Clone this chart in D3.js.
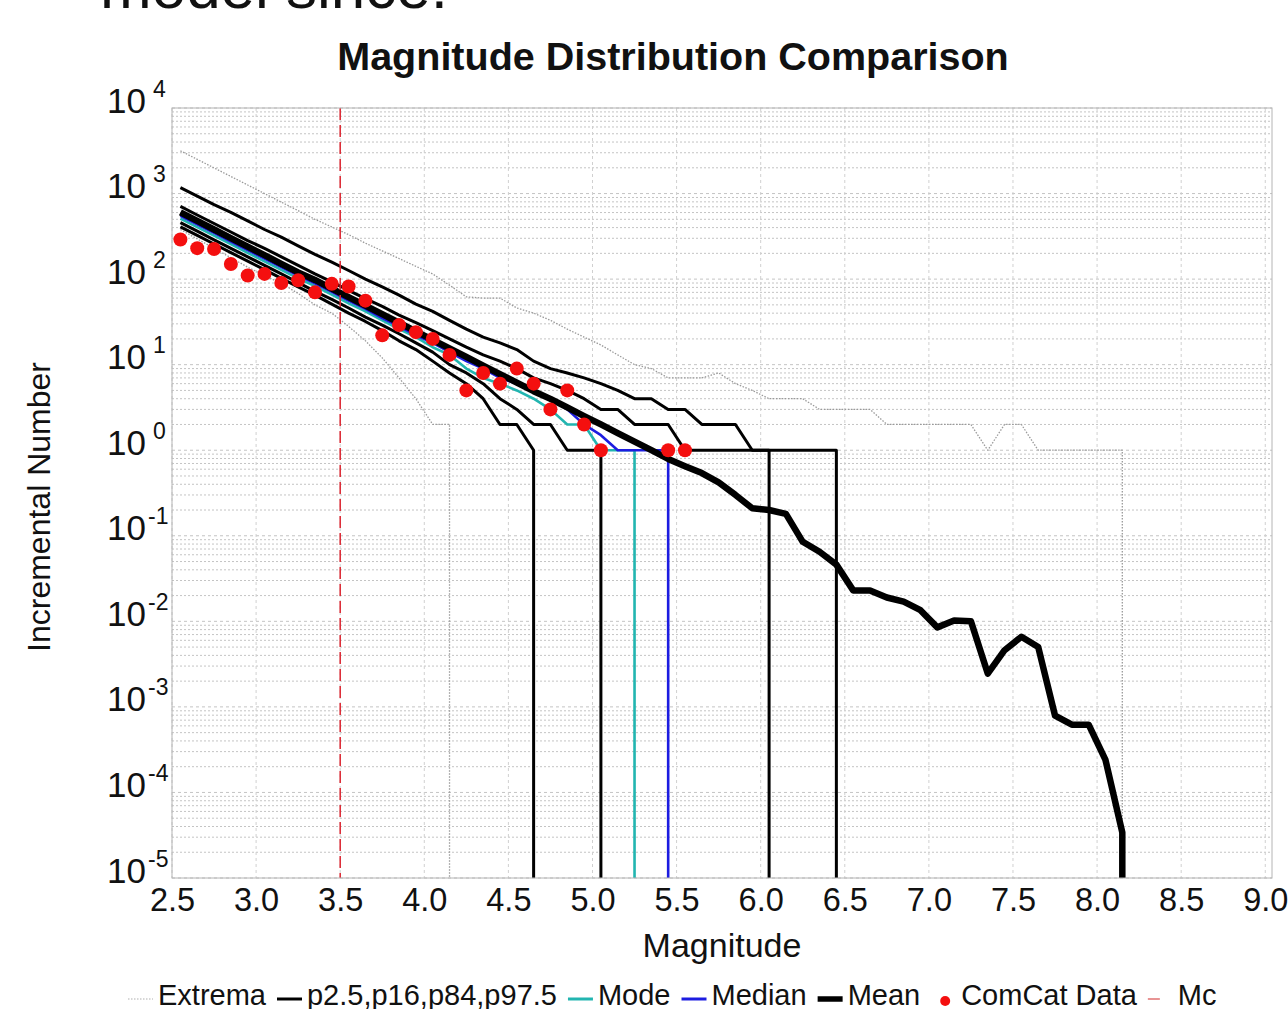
<!DOCTYPE html>
<html>
<head>
<meta charset="utf-8">
<script src="https://cdn.jsdelivr.net/npm/d3@7"></script>
<style>
  body { margin: 0; background: #fff; }
  text { font-family: "Liberation Sans", Arial, sans-serif; fill: #111; }
</style>
</head>
<body>
<svg id="chart" width="1288" height="1009"></svg>
<script>
// magnitude bin centres
var mags = [2.55, 2.65, 2.75, 2.85, 2.95, 3.05, 3.15, 3.25, 3.35, 3.45,
            3.55, 3.65, 3.75, 3.85, 3.95, 4.05, 4.15, 4.25, 4.35, 4.45,
            4.55, 4.65, 4.75, 4.85, 4.95, 5.05, 5.15, 5.25, 5.35, 5.45,
            5.55, 5.65, 5.75, 5.85, 5.95, 6.05, 6.15, 6.25, 6.35, 6.45,
            6.55, 6.65, 6.75, 6.85, 6.95, 7.05, 7.15, 7.25, 7.35, 7.45,
            7.55, 7.65, 7.75, 7.85, 7.95, 8.05, 8.15];

// each series starts at 2.55 and is zero after its last value
var extremaHigh = [3160, 2512, 1995, 1585, 1259, 1000, 794, 631, 500, 407,
                   331, 263, 214, 174, 141, 115, 85, 62, 60, 60,
                   46, 40, 33, 26, 21, 17, 13, 10, 9, 7,
                   7, 7, 8, 6, 5, 4, 4, 4, 3, 3,
                   3, 3, 2, 2, 2, 2, 2, 2, 1, 2,
                   2, 1, 1, 1, 1, 1, 1];
var extremaLow = [380, 295, 229, 178, 138, 110, 89, 68, 50, 40,
                  28, 19, 12, 7, 4, 2, 2];
var p975 = [1175, 933, 741, 603, 479, 380, 309, 245, 195, 158,
            126, 100, 81, 65, 51, 42, 33, 26, 21, 18,
            15, 11, 9, 8, 7, 6, 5, 4, 4, 3,
            3, 2, 2, 2, 1, 1, 1, 1, 1, 1];
var p84 = [708, 562, 447, 355, 282, 229, 182, 145, 115, 93,
           74, 59, 48, 38, 31, 25, 20, 16, 13, 11,
           9, 7, 6, 5, 4, 3, 3, 2, 2, 2,
           1, 1, 1, 1, 1, 1];
var p16 = [457, 363, 288, 229, 182, 145, 115, 91, 72, 58,
           46, 36, 29, 23, 18, 14, 10, 8, 6, 4,
           3, 2, 2, 1, 1, 1];
var p25 = [407, 324, 257, 204, 162, 129, 102, 81, 65, 51,
           40, 32, 25, 19, 15, 11, 8, 6, 4, 2,
           2, 1];
var modeVals = [510, 405, 322, 256, 203, 161, 128, 102, 83, 66,
                52, 42, 33, 26, 21, 16, 13, 9, 7, 6,
                5, 4, 3, 2, 2, 1, 1, 1];
var medianVals = [550, 437, 347, 275, 219, 174, 138, 110, 89, 71,
                  56, 45, 35, 28, 22, 18, 14, 11, 9, 7,
                  6, 5, 4, 3, 2, 1.5, 1, 1, 1, 1];
var meanVals = [603, 479, 380, 302, 240, 191, 151, 120, 97.7, 77.6,
                61.7, 49.0, 38.9, 30.9, 24.5, 19.5, 15.5, 12.3, 9.77, 7.76,
                6.17, 4.90, 3.98, 3.16, 2.51, 2.00, 1.58, 1.26, 1.00, 0.79,
                0.65, 0.54, 0.42, 0.30, 0.21, 0.20, 0.18, 0.085, 0.065, 0.046,
                0.023, 0.023, 0.019, 0.017, 0.0135, 0.0085, 0.0102, 0.010, 0.00245, 0.0046,
                0.0066, 0.0050, 0.00079, 0.00062, 0.00062, 0.00024, 0.000034];

// observed ComCat counts
var comcatMags = [2.55, 2.65, 2.75, 2.85, 2.95, 3.05, 3.15, 3.25, 3.35, 3.45,
                  3.55, 3.65, 3.75, 3.85, 3.95, 4.05, 4.15, 4.25, 4.35, 4.45,
                  4.55, 4.65, 4.75, 4.85, 4.95, 5.05, 5.45, 5.55];
var comcatCounts = [290, 230, 225, 150, 110, 115, 90, 97, 70, 88,
                    82, 56, 22, 29, 24, 20, 13, 5, 8, 6,
                    9, 6, 3, 5, 2, 1, 1, 1];

var mc = 3.5;

var xTicks = [2.5, 3.0, 3.5, 4.0, 4.5, 5.0, 5.5, 6.0, 6.5, 7.0, 7.5, 8.0, 8.5, 9.0];
var yExponents = [-5, -4, -3, -2, -1, 0, 1, 2, 3, 4];

var legendItems = ["Extrema", "p2.5,p16,p84,p97.5", "Mode", "Median", "Mean", "ComCat Data", "Mc"];

var svg = d3.select("#chart");
var plotL = 172, plotR = 1272, plotT = 108, plotB = 878;

var x = d3.scaleLinear().domain([2.5, 9.04]).range([plotL, plotR]);
var y = d3.scaleLog().domain([1e-5, 1e4]).range([plotB, plotT]);

// text cut off at the very top of the picture
svg.append("text")
    .attr("x", 100).attr("y", 8)
    .style("font-size", "62px")
    .text("model since.");

// title
svg.append("text")
    .attr("x", 673).attr("y", 70)
    .attr("text-anchor", "middle")
    .style("font-size", "39.5px")
    .style("font-weight", "bold")
    .text("Magnitude Distribution Comparison");

// plot background + grid
svg.append("rect")
    .attr("x", plotL).attr("y", plotT)
    .attr("width", plotR - plotL).attr("height", plotB - plotT)
    .attr("fill", "#fff");

var grid = svg.append("g");
var minorVals = [];
for (var e = -5; e < 4; e++) {
    for (var k = 2; k <= 9; k++) minorVals.push(k * Math.pow(10, e));
}
grid.selectAll(".minor").data(minorVals).enter().append("line")
    .attr("x1", plotL).attr("x2", plotR)
    .attr("y1", d => y(d)).attr("y2", d => y(d))
    .attr("stroke", "#c4c4c4").attr("stroke-width", 1)
    .attr("stroke-dasharray", "2,2");
grid.selectAll(".major").data(yExponents).enter().append("line")
    .attr("x1", plotL).attr("x2", plotR)
    .attr("y1", d => y(Math.pow(10, d))).attr("y2", d => y(Math.pow(10, d)))
    .attr("stroke", "#c4c4c4").attr("stroke-width", 1)
    .attr("stroke-dasharray", "3,3");
grid.selectAll(".vmajor").data(xTicks).enter().append("line")
    .attr("x1", d => x(d)).attr("x2", d => x(d))
    .attr("y1", plotT).attr("y2", plotB)
    .attr("stroke", "#d0d0d0").attr("stroke-width", 1)
    .attr("stroke-dasharray", "3,3");

svg.append("clipPath").attr("id", "plotClip")
    .append("rect")
    .attr("x", plotL).attr("y", plotT - 2)
    .attr("width", plotR - plotL).attr("height", plotB - plotT + 2);

var plot = svg.append("g").attr("clip-path", "url(#plotClip)");

// a series drops straight to the axis after its last non-zero bin
function seriesPoints(vals) {
    var pts = vals.map((v, i) => [x(mags[i]), y(v)]);
    pts.push([x(mags[vals.length - 1]), plotB + 4]);
    return pts;
}
var line = d3.line();

function drawSeries(vals, color, width, dash) {
    plot.append("path")
        .attr("d", line(seriesPoints(vals)))
        .attr("fill", "none")
        .attr("stroke", color)
        .attr("stroke-width", width)
        .attr("stroke-linejoin", "round")
        .attr("stroke-dasharray", dash || null);
}

drawSeries(extremaHigh, "#9a9a9a", 1.3, "1.5,1.5");
drawSeries(extremaLow, "#9a9a9a", 1.3, "1.5,1.5");
drawSeries(p975, "#000", 3);
drawSeries(p84, "#000", 3);
drawSeries(p16, "#000", 3);
drawSeries(p25, "#000", 3);
drawSeries(modeVals, "#22b5b0", 2.6);
drawSeries(medianVals, "#1c1ce0", 2.6);
drawSeries(meanVals, "#000", 6.5);

// completeness magnitude
plot.append("line")
    .attr("x1", x(mc)).attr("x2", x(mc))
    .attr("y1", plotT).attr("y2", plotB)
    .attr("stroke", "#dc2430").attr("stroke-width", 1.5)
    .attr("stroke-dasharray", "12,5");

plot.selectAll(".obs").data(comcatCounts).enter().append("circle")
    .attr("cx", (d, i) => x(comcatMags[i]))
    .attr("cy", d => y(d))
    .attr("r", 7)
    .attr("fill", "#f40f0f");

// frame
svg.append("rect")
    .attr("x", plotL).attr("y", plotT)
    .attr("width", plotR - plotL).attr("height", plotB - plotT)
    .attr("fill", "none").attr("stroke", "#b4b4b4").attr("stroke-width", 1);

// x axis
var xAxis = svg.append("g")
    .attr("transform", "translate(0," + plotB + ")")
    .call(d3.axisBottom(x).tickValues(xTicks).tickFormat(d3.format(".1f")).tickSize(0).tickPadding(10));
xAxis.select(".domain").remove();
xAxis.selectAll("text")
    .attr("dy", null).attr("y", 33)
    .style("font-size", "32.5px")
    .style("font-family", "'Liberation Sans', Arial, sans-serif")
    .attr("fill", "#111");

// y axis with power-of-ten labels
var yAxis = svg.append("g")
    .attr("transform", "translate(" + plotL + ",0)")
    .call(d3.axisLeft(y).tickValues(yExponents.map(d => Math.pow(10, d))).tickFormat("").tickSize(0));
yAxis.select(".domain").remove();
yAxis.selectAll(".tick").each(function(d) {
    var ex = Math.round(Math.log10(d));
    var g = d3.select(this);
    g.append("text")
        .attr("x", -26).attr("y", 4)
        .attr("text-anchor", "end")
        .style("font-size", "35px")
        .text("10");
    g.append("text")
        .attr("x", ex < 0 ? -24 : -19).attr("y", -12)
        .attr("text-anchor", "start")
        .style("font-size", "23px")
        .text(ex);
});

svg.append("text")
    .attr("x", (plotL + plotR) / 2).attr("y", 957)
    .attr("text-anchor", "middle")
    .style("font-size", "34px")
    .text("Magnitude");

svg.append("text")
    .attr("transform", "translate(50,507) rotate(-90)")
    .attr("text-anchor", "middle")
    .style("font-size", "32px")
    .text("Incremental Number");

// legend row
var legend = svg.append("g");
var lx = 128, ly = 996;
var legendStyles = [
    ["#b0b0b0", 1.2, "1.5,1.5"],
    ["#000", 3, null],
    ["#22b5b0", 3, null],
    ["#1c1ce0", 3, null],
    ["#000", 5.5, null],
    null,
    ["#e07070", 1.5, "12,14"]
];
legendItems.forEach(function(name, i) {
    var g = legend.append("g");
    if (i === 5) {
        g.append("circle").attr("cx", lx + 14).attr("cy", ly + 5).attr("r", 5).attr("fill", "#f40f0f");
    } else {
        var st = legendStyles[i];
        g.append("line")
            .attr("x1", lx).attr("x2", lx + 25)
            .attr("y1", ly + 3).attr("y2", ly + 3)
            .attr("stroke", st[0]).attr("stroke-width", st[1])
            .attr("stroke-dasharray", st[2]);
    }
    var t = g.append("text")
        .attr("x", lx + 30).attr("y", ly + 9)
        .style("font-size", "29px")
        .text(name);
    lx += 30 + t.node().getComputedTextLength() + 11;
});
</script>
</body>
</html>
